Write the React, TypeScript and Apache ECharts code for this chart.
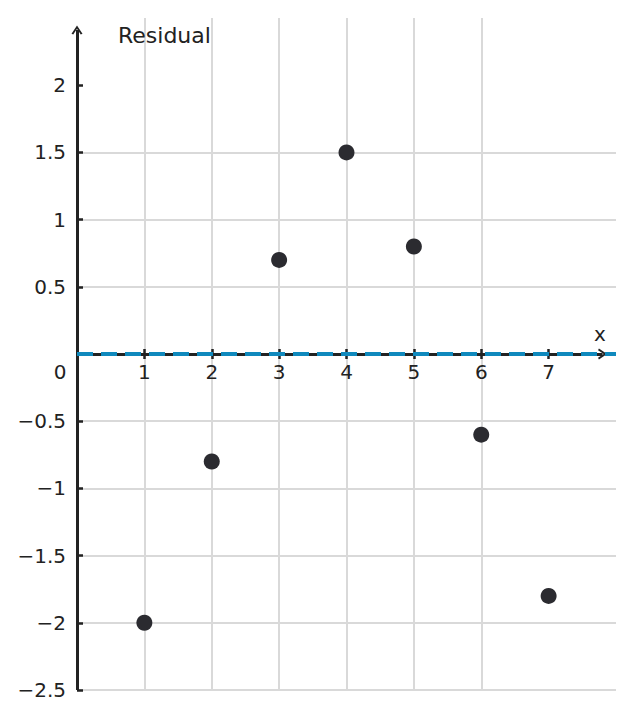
import { useEffect, useRef } from 'react';
import * as echarts from 'echarts';

// residuals per x
const xValues = [1, 2, 3, 4, 5, 6, 7];
const residuals = [-2, -0.8, 0.7, 1.5, 0.8, -0.6, -1.8];

// zero reference line
const refX = [0, 8];
const refY = [0, 0];

// ticks and labels
const xTicks = [1, 2, 3, 4, 5, 6, 7];
const xLabels = [0, 1, 2, 3, 4, 5, 6, 7];
const yTicks = [-2.5, -2, -1.5, -1, -0.5, 0, 0.5, 1, 1.5, 2];
const yLabels = [-2.5, -2, -1.5, -1, -0.5, 0.5, 1, 1.5, 2];

const FONT = 'DejaVu Sans';
const INK = '#222222';
const CHEVRON = 'path://M0,9 L5,0 L10,9 L8.4,10 L5,3.6 L1.6,10 Z';

// plot box, y = 0 sits halfway down
const PLOT_TOP = 18;
const PLOT_BOTTOM = 29;
const PLOT_H = 719 - PLOT_TOP - PLOT_BOTTOM;

const fmt = (v: number) => String(v).replace('-', '\u2212');

export default function App() {
  const ref = useRef<HTMLDivElement>(null);

  useEffect(() => {
    document.body.style.margin = '0';
    if (!ref.current) return;
    const chart = echarts.init(ref.current, undefined, { renderer: 'svg' });

    const clearLine = { color: 'rgba(0,0,0,0)', width: 1 };

    const option: echarts.EChartsOption = {
      animation: false,
      grid: { left: 77, right: 17, top: PLOT_TOP, bottom: PLOT_BOTTOM },
      xAxis: [
        {
          type: 'value',
          min: 0,
          max: 8,
          interval: 1,
          position: 'bottom',
          offset: -PLOT_H / 2,
          name: 'x',
          nameLocation: 'end',
          nameGap: -16,
          nameTextStyle: {
            fontFamily: FONT,
            fontSize: 20,
            color: INK,
            align: 'center',
            verticalAlign: 'bottom',
            padding: [0, 0, 10, 0],
          },
          axisLine: { show: true, onZero: false, lineStyle: clearLine },
          axisTick: {
            show: true,
            length: 5,
            customValues: xTicks,
            lineStyle: { color: INK, width: 2.5 },
          },
          axisLabel: {
            customValues: xLabels,
            margin: 8,
            fontFamily: FONT,
            fontSize: 20,
            color: INK,
            formatter: (v: number) => (v === 0 ? '{o|0}' : fmt(v)),
            rich: {
              o: {
                fontFamily: FONT,
                fontSize: 20,
                color: INK,
                padding: [0, 34, 0, 0],
              },
            },
          },
          splitLine: {
            show: true,
            showMaxLine: false,
            lineStyle: { color: '#d9d9d9', width: 2 },
          },
        },
        {
          type: 'value',
          min: 0,
          max: 8,
          interval: 1,
          position: 'top',
          axisLine: { show: true, onZero: true, onZeroAxisIndex: 0, lineStyle: clearLine },
          axisTick: {
            show: true,
            length: 5,
            customValues: xTicks,
            lineStyle: { color: INK, width: 2.5 },
          },
          axisLabel: { show: false },
          splitLine: { show: false },
        },
      ],
      yAxis: {
        type: 'value',
        min: -2.5,
        max: 2.5,
        interval: 0.5,
        name: 'Residual',
        nameLocation: 'end',
        nameGap: -17,
        nameTextStyle: {
          fontFamily: FONT,
          fontSize: 22,
          color: INK,
          align: 'left',
          verticalAlign: 'middle',
          padding: [0, 0, 0, 41],
        },
        axisLine: { show: false, onZero: false },
        axisTick: {
          show: true,
          inside: true,
          length: 6,
          customValues: yTicks,
          lineStyle: { color: INK, width: 2.5 },
        },
        axisLabel: {
          customValues: yLabels,
          margin: 11,
          fontFamily: FONT,
          fontSize: 20,
          color: INK,
          formatter: (v: number) => fmt(v),
        },
        splitLine: {
          show: true,
          showMaxLine: false,
          lineStyle: { color: '#d9d9d9', width: 2 },
        },
      },
      series: [
        {
          type: 'scatter',
          z: 2,
          symbolSize: 16,
          itemStyle: { color: '#2b2b30', opacity: 1 },
          data: xValues.map((x, i) => [x, residuals[i]]),
          markLine: {
            silent: true,
            z: 2,
            symbol: ['none', CHEVRON],
            symbolSize: [11, 9],
            label: { show: false },
            lineStyle: { color: INK, width: 3, type: 'solid', opacity: 1 },
            emphasis: { disabled: true },
            data: [
              [{ coord: [0, -2.5] }, { coord: [0, 2.41] }],
              [{ coord: [0, 0] }, { coord: [7.8, 0] }],
            ],
          },
        },
        {
          type: 'line',
          z: 10,
          symbol: 'none',
          silent: true,
          lineStyle: { color: '#0f89bd', width: 4, type: [16, 8], cap: 'butt' },
          data: refX.map((x, i) => [x, refY[i]]),
        },
      ],
    };

    chart.setOption(option);
    return () => chart.dispose();
  }, []);

  return <div ref={ref} style={{ width: 633, height: 719 }} />;
}
